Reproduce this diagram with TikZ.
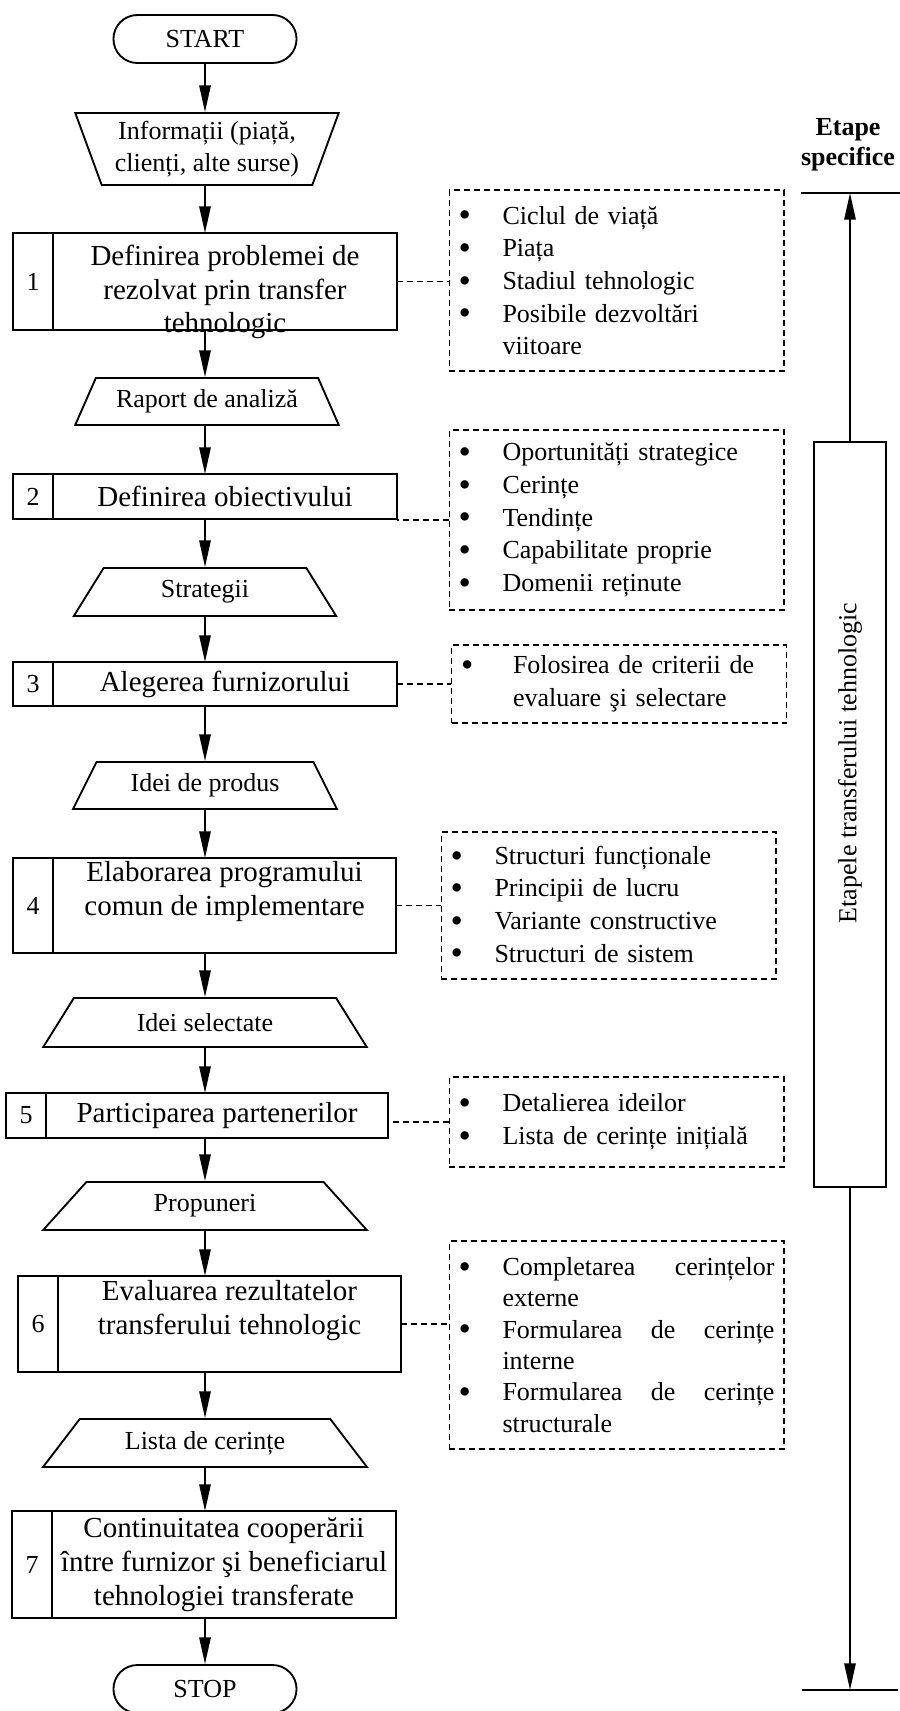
\documentclass[tikz,border=0pt]{standalone}
\usepackage{fontspec}
\setmainfont{Liberation Serif}
\usetikzlibrary{positioning,shapes.geometric,shapes.misc,arrows.meta}

\newcommand{\bul}{\makebox[33pt][l]{\raisebox{-2pt}{\scalebox{1.35}{\textbullet}}}}
\newcommand{\bulwide}{\makebox[39pt][l]{\raisebox{-2pt}{\scalebox{1.35}{\textbullet}}}}

\tikzset{every picture/.style={line width=1.4pt}}
\tikzset{
  terminal/.style={draw, rounded rectangle, minimum width=144pt, minimum height=36pt, font=\fontsize{19.5}{24}\selectfont},
  stepbox/.style={draw, rectangle, outer sep=0pt, inner xsep=2pt, inner ysep=0pt, align=center, font=\fontsize{21.75}{25.5}\selectfont},
  steptext/.style={inner sep=0pt, align=center, font=\fontsize{21.75}{25}\selectfont},
  nrbox/.style={draw, rectangle, outer sep=0pt, minimum width=30pt, font=\fontsize{19.5}{24}\selectfont},
  datain/.style={draw, trapezium, trapezium stretches=true, align=center, inner sep=2pt, font=\fontsize{19.5}{24.5}\selectfont},
  note/.style={draw, rectangle, dash pattern=on 4.5pt off 3pt, line width=1pt, inner xsep=7pt, inner ysep=2pt, text width=237pt, align=left, font=\fontsize{19.5}{24.5}\selectfont},
  flow/.style={-{Triangle[length=20pt,width=8.5pt]}},
  link/.style={dash pattern=on 4.5pt off 3pt, line width=1pt},
}

\begin{document}
\begin{tikzpicture}[x=0.75pt,y=0.75pt,yscale=-1,xscale=1]
\useasboundingbox (0,0) rectangle (900,1711);

% Terminals
\node[terminal] (start) at (205,39) {START};
\node[terminal] (stop) at (205,1689) {STOP};

% Data
\node[datain, shape border rotate=180, minimum width=198pt, minimum height=54pt, trapezium angle=69] (info) at (207,149) {Informații (piață,\\clienți, alte surse)};
\node[datain, minimum width=198pt, minimum height=35.25pt, trapezium angle=59] (raport) at (207,401.5) {Raport de analiză};
\node[datain, minimum width=197.25pt, minimum height=36pt, trapezium angle=64] (strategii) at (205,592) {Strategii};
\node[datain, minimum width=198pt, minimum height=35.25pt, trapezium angle=60] (produs) at (205,785.5) {Idei de produs};
\node[datain, minimum width=243pt, minimum height=36.75pt, trapezium angle=55] (selectate) at (205,1022.5) {Idei selectate};
\node[datain, minimum width=243pt, minimum height=36pt, trapezium angle=55] (propuneri) at (205,1206) {Propuneri};
\node[datain, minimum width=243pt, minimum height=36pt, trapezium angle=50] (lista) at (205,1443) {Lista de cerințe};

% Steps
\node[stepbox, minimum width=258pt, minimum height=72.75pt] (s1) at (225,281.5) {};
\node[steptext] (s1txt) at (225,292) {Definirea problemei de\\rezolvat prin transfer\\tehnologic};
\node[nrbox, minimum height=72.75pt, left=0pt of s1] (n1) {1};
\node[stepbox, minimum width=258pt, minimum height=33.75pt] (s2) at (225,496.5) {Definirea obiectivului};
\node[nrbox, minimum height=33.75pt, left=0pt of s2] (n2) {2};
\node[stepbox, minimum width=258pt, minimum height=33pt] (s3) at (225,684) {Alegerea furnizorului};
\node[nrbox, minimum height=33pt, left=0pt of s3] (n3) {3};
\node[stepbox, minimum width=257.25pt, minimum height=71.25pt] (s4) at (224.5,905.5) {Elaborarea programului\\comun de implementare\\\mbox{}};
\node[nrbox, minimum height=71.25pt, left=0pt of s4] (n4) {4};
\node[stepbox, minimum width=256.5pt, minimum height=33.75pt] (s5) at (217,1115.5) {Participarea partenerilor};
\node[nrbox, minimum height=33.75pt, left=0pt of s5] (n5) {5};
\node[stepbox, minimum width=257.25pt, minimum height=72pt] (s6) at (229.5,1324) {Evaluarea rezultatelor\\transferului tehnologic\\\mbox{}};
\node[nrbox, minimum height=72pt, left=0pt of s6] (n6) {6};
\node[stepbox, minimum width=258pt, minimum height=80.25pt] (s7) at (224,1564.5) {Continuitatea cooperării\\între furnizor şi beneficiarul\\tehnologiei transferate};
\node[nrbox, minimum height=80.25pt, left=0pt of s7] (n7) {7};

% Notes
\node[note, minimum height=135.75pt] (list1) at (616.5,280.5) {\bul Ciclul de viață\\\bul Piața\\\bul Stadiul tehnologic\\\bul Posibile dezvoltări\\\hspace*{33pt}viitoare};
\node[note, minimum height=135pt] (list2) at (616.5,520) {\bul Oportunități strategice\\\bul Cerințe\\\bul Tendințe\\\bul Capabilitate proprie\\\bul Domenii reținute};
\node[note, minimum height=58.5pt] (list3) at (619,684) {\bulwide Folosirea de criterii de\\\hspace*{39pt}evaluare şi selectare};
\node[note, minimum height=110.25pt] (list4) at (608.5,905.5) {\bul Structuri funcționale\\\bul Principii de lucru\\\bul Variante constructive\\\bul Structuri de sistem};
\node[note, minimum height=67.5pt] (list5) at (616.5,1122) {\bul Detalierea ideilor\\\bul Lista de cerințe inițială};
\node[note, minimum height=156pt, font=\fontsize{19.5}{23.5}\selectfont] (list6) at (616.5,1345) {\bul\makebox[204pt][l]{Completarea\hfill cerințelor}\\\hspace*{33pt}externe\\\bul\makebox[204pt][l]{Formularea\hfill de\hfill cerințe}\\\hspace*{33pt}interne\\\bul\makebox[204pt][l]{Formularea\hfill de\hfill cerințe}\\\hspace*{33pt}structurale};

% Flow arrows
\draw[flow] (start) -- (start |- info.north);
\draw[flow] (start |- info.south) -- (start |- s1.north);
\draw[flow] (start |- s1.south) -- (start |- raport.north);
\draw[flow] (start |- raport.south) -- (start |- s2.north);
\draw[flow] (strategii |- s2.south) -- (strategii);
\draw[flow] (strategii) -- (strategii |- s3.north);
\draw[flow] (produs |- s3.south) -- (produs);
\draw[flow] (produs) -- (produs |- s4.north);
\draw[flow] (selectate |- s4.south) -- (selectate);
\draw[flow] (selectate) -- (selectate |- s5.north);
\draw[flow] (propuneri |- s5.south) -- (propuneri);
\draw[flow] (propuneri) -- (propuneri |- s6.north);
\draw[flow] (lista |- s6.south) -- (lista);
\draw[flow] (lista) -- (lista |- s7.north);
\draw[flow] (stop |- s7.south) -- (stop);

% Dashed links
\draw[link] (s1.east) -- (s1.east -| list1.west);
\draw[link] (list2.west) -- (list2.west -| s2.east);
\draw[link] (s3.east) -- (s3.east -| list3.west);
\draw[link] (s4.east) -- (s4.east -| list4.west);
\draw[link] (list5.west) -- (list5.west -| s5.east);
\draw[link] (s6.east) -- (s6.east -| list6.west);

% Stages scale
\node[font=\bfseries\fontsize{19.5}{22.5}\selectfont, align=center] (etape) at (848,145) {Etape\\specifice};
\coordinate (topL) at (801,193);
\coordinate (topR) at (900,193);
\coordinate (botL) at (802,1690);
\coordinate (botR) at (898,1690);
\draw (topL) -- (topR);
\draw (botL) -- (botR);
\node[draw, minimum width=54pt, minimum height=558.75pt] (etapele) at (850,814.5) {};
\node[rotate=90, font=\fontsize{19.5}{24}\selectfont] (etapeletxt) at (850,763) {Etapele transferului tehnologic};
\draw[flow] (etapele) -- (etapele |- topL);
\draw[flow] (etapele) -- (etapele |- botL);

\end{tikzpicture}
\end{document}
